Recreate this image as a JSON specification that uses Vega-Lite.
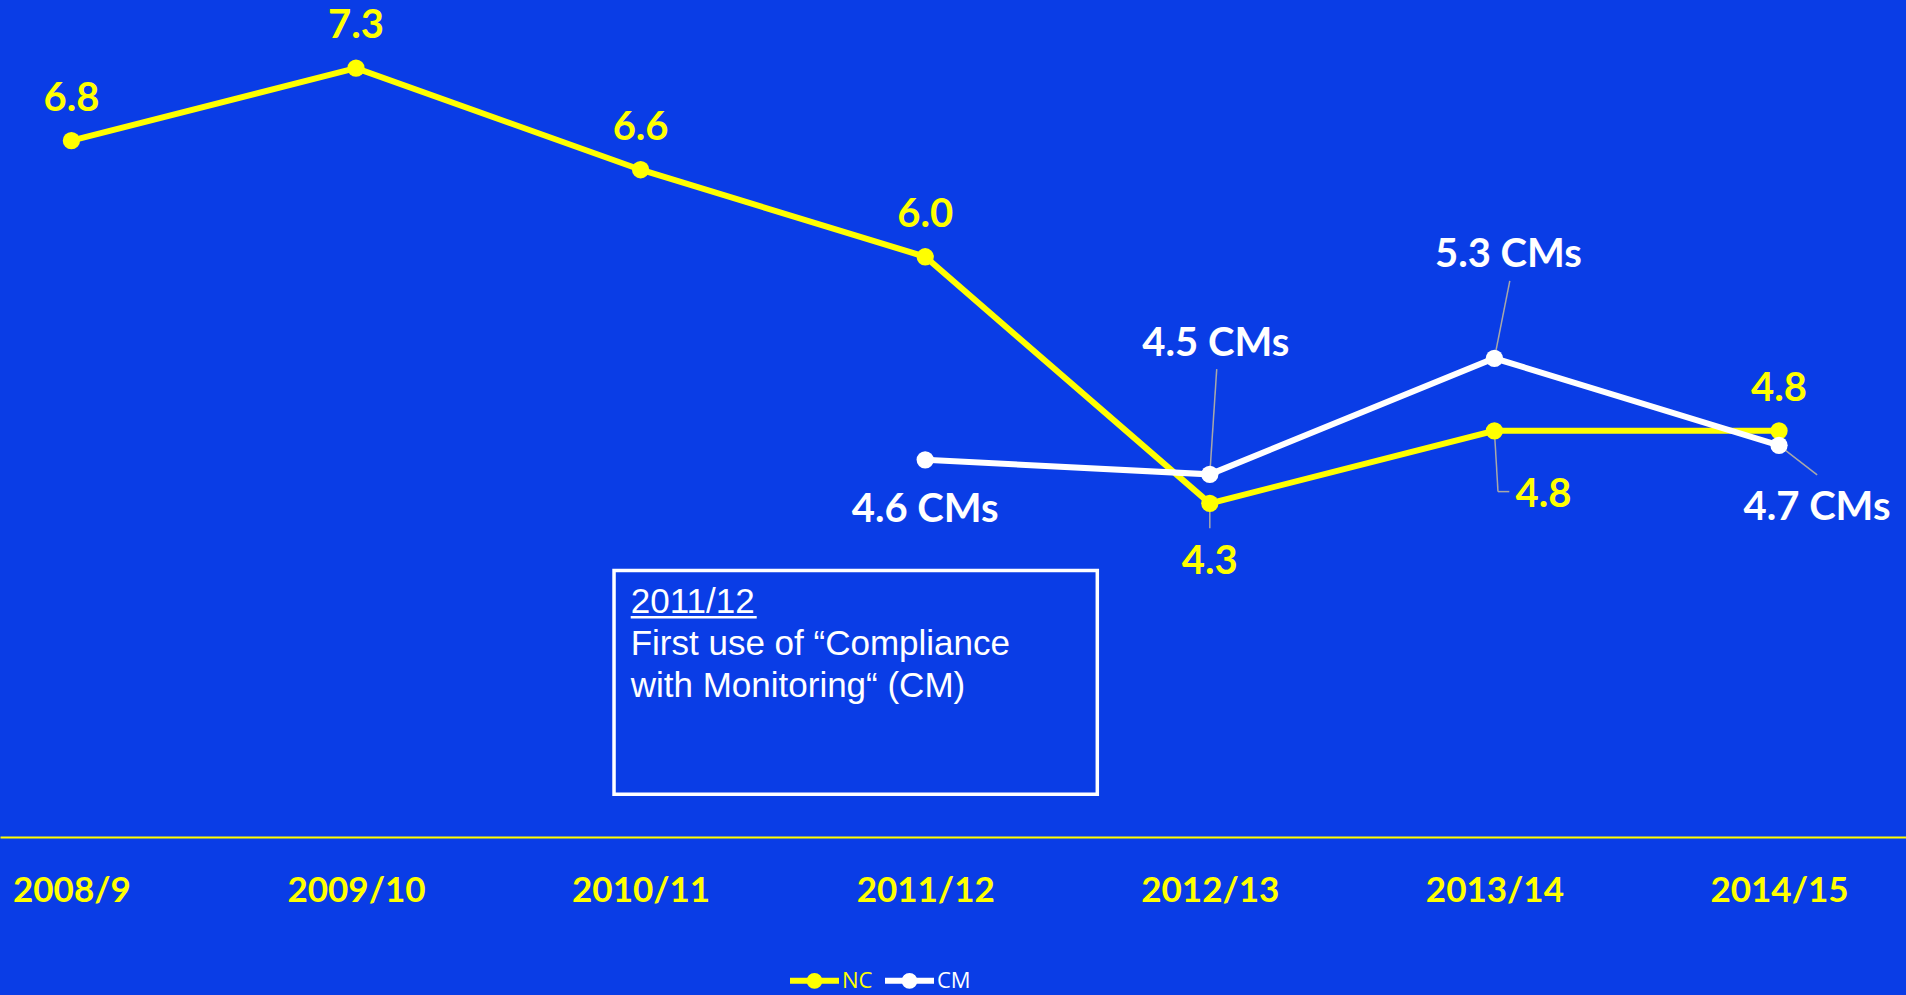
{
  "$schema": "https://vega.github.io/schema/vega-lite/v6.json",
  "width": 1906,
  "height": 837,
  "autosize": {"type": "none"},
  "padding": {"left": 0, "right": 0, "top": 0, "bottom": 158},
  "background": "#0a3de6",
  "config": {"view": {"stroke": null}},
  "datasets": {
    "series": [
      {"i": 0, "year": "2008/9", "series": "NC", "value": 6.8, "label": "6.8"},
      {"i": 1, "year": "2009/10", "series": "NC", "value": 7.3, "label": "7.3"},
      {"i": 2, "year": "2010/11", "series": "NC", "value": 6.6, "label": "6.6"},
      {"i": 3, "year": "2011/12", "series": "NC", "value": 6.0, "label": "6.0"},
      {"i": 4, "year": "2012/13", "series": "NC", "value": 4.3, "label": "4.3"},
      {"i": 5, "year": "2013/14", "series": "NC", "value": 4.8, "label": "4.8"},
      {"i": 6, "year": "2014/15", "series": "NC", "value": 4.8, "label": "4.8"},
      {"i": 3, "year": "2011/12", "series": "CM", "value": 4.6, "label": "4.6 CMs"},
      {"i": 4, "year": "2012/13", "series": "CM", "value": 4.5, "label": "4.5 CMs"},
      {"i": 5, "year": "2013/14", "series": "CM", "value": 5.3, "label": "5.3 CMs"},
      {"i": 6, "year": "2014/15", "series": "CM", "value": 4.7, "label": "4.7 CMs"}
    ],
    "leaders": [
      {"x1": 4, "y1": 4.5, "x2": 4.0243, "y2": 5.2255},
      {"x1": 4, "y1": 4.3, "x2": 4.0, "y2": 4.129},
      {"x1": 5, "y1": 5.3, "x2": 5.0541, "y2": 5.834},
      {"x1": 5, "y1": 4.8, "x2": 5.0126, "y2": 4.381},
      {"x1": 5.0126, "y1": 4.381, "x2": 5.0523, "y2": 4.381},
      {"x1": 6, "y1": 4.7, "x2": 6.134, "y2": 4.4966}
    ],
    "note": [
      {"left": 1.9066, "right": 3.6047, "top": 3.8366, "bottom": 2.2945, "tx": 1.9652, "ty": 3.5428, "ulEnd": 2.408, "ulY": 3.5152,
       "text": "2011/12\nFirst use of “Compliance\nwith Monitoring“ (CM)"}
    ]
  },
  "data": {"name": "series"},
  "layer": [
    {
      "data": {"name": "leaders"},
      "mark": {"type": "rule", "color": "#a8a8a8", "strokeWidth": 1.5},
      "encoding": {
        "x": {"field": "x1", "type": "quantitative",
              "scale": {"domain": [-0.2509, 6.4462], "nice": false, "zero": false},
              "axis": {"values": [0, 1, 2, 3, 4, 5, 6], "grid": false, "ticks": false, "tickSize": 0,
                       "domainColor": "#ffff00", "domainWidth": 2,
                       "labelExpr": "['2008/9','2009/10','2010/11','2011/12','2012/13','2013/14','2014/15'][datum.value]",
                       "labelColor": "#ffff00", "labelFont": "Lato", "labelFontWeight": "bold", "labelFontSize": 35,
                       "labelBaseline": "alphabetic", "labelPadding": 64, "labelFlush": false, "labelOverlap": false, "title": null}},
        "x2": {"field": "x2"},
        "y": {"field": "y1", "type": "quantitative", "scale": {"domain": [2, 7.77], "nice": false, "zero": false}, "axis": null},
        "y2": {"field": "y2"}
      }
    },
    {
      "data": {"name": "note"},
      "mark": {"type": "rect", "fillOpacity": 0, "fill": "#0a3de6", "stroke": "#ffffff", "strokeWidth": 3.5},
      "encoding": {
        "x": {"field": "left", "type": "quantitative"},
        "x2": {"field": "right"},
        "y": {"field": "top", "type": "quantitative"},
        "y2": {"field": "bottom"}
      }
    },
    {
      "data": {"name": "note"},
      "mark": {"type": "text", "align": "left", "baseline": "alphabetic", "font": "Liberation Sans", "fontSize": 35,
               "fill": "#ffffff", "lineBreak": "\n", "lineHeight": 41.7},
      "encoding": {
        "x": {"field": "tx", "type": "quantitative"},
        "y": {"field": "ty", "type": "quantitative"},
        "text": {"field": "text"}
      }
    },
    {
      "data": {"name": "note"},
      "mark": {"type": "rule", "color": "#ffffff", "strokeWidth": 2.5},
      "encoding": {
        "x": {"field": "tx", "type": "quantitative"},
        "x2": {"field": "ulEnd"},
        "y": {"field": "ulY", "type": "quantitative"}
      }
    },
    {
      "mark": {"type": "line", "strokeWidth": 6},
      "encoding": {
        "x": {"field": "i", "type": "quantitative"},
        "y": {"field": "value", "type": "quantitative"},
        "color": {"field": "series", "type": "nominal",
                  "scale": {"domain": ["NC", "CM"], "range": ["#ffff00", "#ffffff"]},
                  "legend": {"orient": "none", "legendX": 787, "legendY": 953, "direction": "horizontal", "title": null,
                             "symbolType": "M-1,0L1,0M-0.2,0A0.2,0.2,0,1,0,0.2,0A0.2,0.2,0,1,0,-0.2,0Z",
                             "symbolSize": 2400, "symbolStrokeWidth": 6,
                             "labelFont": "Open Sans", "labelFontSize": 22,
                             "labelColor": {"expr": "datum.value == 'NC' ? '#ffff00' : '#ffffff'"},
                             "labelOffset": 0, "columnPadding": 0, "padding": 0}}
      }
    },
    {
      "mark": {"type": "point", "filled": true, "size": 300, "opacity": 1},
      "encoding": {
        "x": {"field": "i", "type": "quantitative"},
        "y": {"field": "value", "type": "quantitative"},
        "color": {"field": "series", "type": "nominal"}
      }
    },
    {
      "transform": [{"filter": "datum.series == 'NC' && (datum.i < 4 || datum.i == 6)"}],
      "mark": {"type": "text", "font": "Lato", "fontWeight": "bold", "fontSize": 40, "fill": "#ffff00", "align": "center", "baseline": "alphabetic", "dy": -30},
      "encoding": {"x": {"field": "i", "type": "quantitative"}, "y": {"field": "value", "type": "quantitative"}, "text": {"field": "label"}}
    },
    {
      "transform": [{"filter": "datum.series == 'NC' && datum.i == 4"}],
      "mark": {"type": "text", "font": "Lato", "fontWeight": "bold", "fontSize": 40, "fill": "#ffff00", "align": "center", "baseline": "alphabetic", "dy": 71},
      "encoding": {"x": {"field": "i", "type": "quantitative"}, "y": {"field": "value", "type": "quantitative"}, "text": {"field": "label"}}
    },
    {
      "transform": [{"filter": "datum.series == 'NC' && datum.i == 5"}],
      "mark": {"type": "text", "font": "Lato", "fontWeight": "bold", "fontSize": 40, "fill": "#ffff00", "align": "center", "baseline": "alphabetic", "dx": 49, "dy": 76},
      "encoding": {"x": {"field": "i", "type": "quantitative"}, "y": {"field": "value", "type": "quantitative"}, "text": {"field": "label"}}
    },
    {
      "transform": [{"filter": "datum.series == 'CM' && datum.i == 3"}],
      "mark": {"type": "text", "font": "Lato", "fontWeight": "bold", "fontSize": 40, "fill": "#ffffff", "align": "center", "baseline": "alphabetic", "dy": 62},
      "encoding": {"x": {"field": "i", "type": "quantitative"}, "y": {"field": "value", "type": "quantitative"}, "text": {"field": "label"}}
    },
    {
      "transform": [{"filter": "datum.series == 'CM' && datum.i == 4"}],
      "mark": {"type": "text", "font": "Lato", "fontWeight": "bold", "fontSize": 40, "fill": "#ffffff", "align": "center", "baseline": "alphabetic", "dx": 6, "dy": -118},
      "encoding": {"x": {"field": "i", "type": "quantitative"}, "y": {"field": "value", "type": "quantitative"}, "text": {"field": "label"}}
    },
    {
      "transform": [{"filter": "datum.series == 'CM' && datum.i == 5"}],
      "mark": {"type": "text", "font": "Lato", "fontWeight": "bold", "fontSize": 40, "fill": "#ffffff", "align": "center", "baseline": "alphabetic", "dx": 14, "dy": -91},
      "encoding": {"x": {"field": "i", "type": "quantitative"}, "y": {"field": "value", "type": "quantitative"}, "text": {"field": "label"}}
    },
    {
      "transform": [{"filter": "datum.series == 'CM' && datum.i == 6"}],
      "mark": {"type": "text", "font": "Lato", "fontWeight": "bold", "fontSize": 40, "fill": "#ffffff", "align": "center", "baseline": "alphabetic", "dx": 38, "dy": 75},
      "encoding": {"x": {"field": "i", "type": "quantitative"}, "y": {"field": "value", "type": "quantitative"}, "text": {"field": "label"}}
    }
  ]
}
